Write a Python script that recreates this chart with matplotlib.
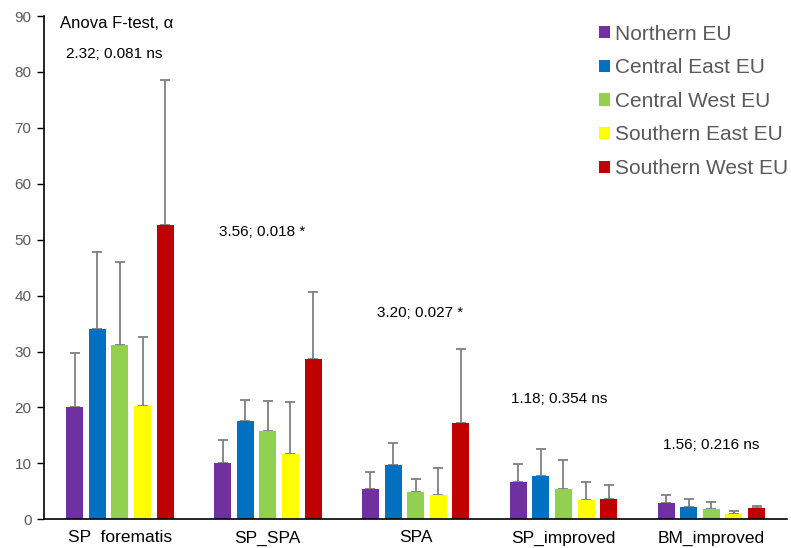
import numpy as np
import matplotlib.pyplot as plt

# Mean alpha per region and method, with standard deviations
methods = ["SP  forematis", "SP_SPA", "SPA", "SP_improved", "BM_improved"]
regions = ["Northern EU", "Central East EU", "Central West EU",
           "Southern East EU", "Southern West EU"]
colors = ["#7030A0", "#0070C0", "#92D050", "#FFFF00", "#C00000"]

northern = [20.0, 10.1, 5.4, 6.7, 3.0]
central_east = [34.0, 17.6, 9.7, 7.7, 2.2]
central_west = [31.2, 15.7, 4.8, 5.4, 1.9]
southern_east = [20.2, 11.7, 4.3, 3.4, 0.9]
southern_west = [52.6, 28.7, 17.3, 3.6, 2.1]

northern_sd = [9.7, 4.0, 3.1, 3.1, 1.4]
central_east_sd = [13.8, 3.8, 3.9, 4.9, 1.5]
central_west_sd = [14.8, 5.5, 2.4, 5.2, 1.2]
southern_east_sd = [12.4, 9.2, 4.8, 3.2, 0.6]
southern_west_sd = [25.9, 12.0, 13.2, 2.5, 0.3]

# ANOVA results (F; p) per method
anova_labels = ["2.32; 0.081 ns", "3.56; 0.018 *", "3.20; 0.027 *",
                "1.18; 0.354 ns", "1.56; 0.216 ns"]
anova_pos = [(-0.04, 83.2), (0.96, 51.4), (2.03, 36.9), (2.97, 21.5), (4.0, 13.2)]

means = [northern, central_east, central_west, southern_east, southern_west]
sds = [northern_sd, central_east_sd, central_west_sd, southern_east_sd, southern_west_sd]

plt.rcParams['font.family'] = ['Liberation Sans', 'DejaVu Sans']

fig = plt.figure(figsize=(7.91, 5.48), dpi=100)
ax = fig.add_axes([0.0556, 0.0524, 0.939, 0.9184])

x = np.arange(len(methods))
step = 0.153
width = 0.115
for i, (m, s) in enumerate(zip(means, sds)):
    pos = x + (i - 2) * step
    ax.bar(pos, m, width, color=colors[i], label=regions[i], zorder=2)
    ax.errorbar(pos, m, yerr=[np.zeros(len(m)), s], fmt='none',
                ecolor='#7f7f7f', elinewidth=1.3, capsize=3.5, capthick=1.3, zorder=1)

for txt, (tx, ty) in zip(anova_labels, anova_pos):
    ax.text(tx, ty, txt, ha='center', va='center', fontsize=11, color='black')

ax.text(-0.405, 88.6, "Anova F-test, α", ha='left', va='center', fontsize=12)

ax.set_xlim(-0.514, 4.51)
ax.set_ylim(0, 90)
ax.set_yticks(np.arange(0, 91, 10))
ax.set_xticks(x)
ax.set_xticklabels(methods, fontsize=12.5)
ax.tick_params(axis='x', length=0, pad=8)
ax.tick_params(axis='y', length=5, width=1, labelsize=11, labelcolor='#595959', pad=4)
for side in ['top', 'right']:
    ax.spines[side].set_visible(False)
ax.spines['left'].set_linewidth(1.2)
ax.spines['bottom'].set_linewidth(1.2)

fig.legend(loc='upper left', bbox_to_anchor=(0.757, 0.955), frameon=False,
           fontsize=15, labelcolor='#595959', handlelength=0.52, handleheight=0.52,
           handletextpad=0.25, labelspacing=0.7, borderpad=0, borderaxespad=0)

fig.savefig("out.png", dpi=100)
